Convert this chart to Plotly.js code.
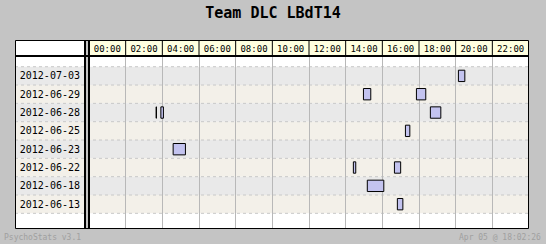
<!DOCTYPE html>
<html><head><meta charset="utf-8">
<script src="https://cdn.plot.ly/plotly-3.0.1.min.js"></script>
<style>html,body{margin:0;padding:0;background:#c4c4c4;}#chart{width:546px;height:244px;}</style>
</head><body><div id="chart"></div>
<script>
// ---- data ----
const rowDates = ["2012-07-03","2012-06-29","2012-06-28","2012-06-25","2012-06-23","2012-06-22","2012-06-18","2012-06-13"];
const hourLabels = ["00:00","02:00","04:00","06:00","08:00","10:00","12:00","14:00","16:00","18:00","20:00","22:00"];
const sessionDates = ["2012-07-03","2012-06-29","2012-06-29","2012-06-28","2012-06-28","2012-06-28","2012-06-25","2012-06-23","2012-06-22","2012-06-22","2012-06-18","2012-06-13"];
const sessionStart = [20.15, 14.97, 17.86, 3.66, 3.92, 18.62, 17.26, 4.59, 14.42, 16.66, 15.18, 16.82];
const sessionEnd   = [20.50, 15.37, 18.37, 3.68, 4.06, 19.19, 17.50, 5.26, 14.55, 17.00, 16.08, 17.12];
const chartTitle = "Team DLC LBdT14";
const footerLeft = "PsychoStats v3.1";
const footerRight = "Apr 05 @ 18:02:26";

// ---- layout helpers (pixel -> paper) ----
const W = 546, H = 244, ML = 89, MR = 17, MT = 57, MB = 16;
const PW = W - ML - MR, PH = H - MT - MB;
const X = p => (p - ML) / PW;
const Y = p => (H - MB - p) / PH;
const mono = "DejaVu Sans Mono, monospace";

const shapes = [];
// label column white background
shapes.push({type:'rect', xref:'paper', yref:'paper', x0:X(15), x1:X(86), y0:Y(228), y1:Y(57), fillcolor:'#ffffff', line:{width:0}, layer:'below'});
// row bands
rowDates.forEach((d, i) => {
  shapes.push({type:'rect', xref:'paper', yref:'y', x0:X(15), x1:X(529), y0:i-0.5, y1:i+0.5,
    fillcolor: i % 2 === 0 ? '#e9e9e9' : '#f3f0e9', line:{width:0}, layer:'below'});
});
// dashed row separators
for (let i = 0; i <= rowDates.length; i++) {
  shapes.push({type:'line', xref:'paper', yref:'y', x0:X(15), x1:X(529), y0:i-0.5, y1:i-0.5,
    line:{color:'#c8c8c8', width:1, dash:'3px,3px'}, layer:'below'});
}
// header cells
hourLabels.forEach((h, i) => {
  shapes.push({type:'rect', xref:'x', yref:'paper', x0:2*i, x1:2*i+2, y0:Y(56), y1:Y(41),
    fillcolor:'#ffffe0', line:{width:0}, layer:'below'});
  if (i > 0) shapes.push({type:'line', xref:'x', yref:'paper', x0:2*i, x1:2*i, y0:Y(56), y1:Y(41),
    line:{color:'#000', width:1}, layer:'above'});
});
shapes.push({type:'rect', xref:'paper', yref:'paper', x0:X(15), x1:X(84), y0:Y(56), y1:Y(41), fillcolor:'#ffffff', line:{width:0}, layer:'below'});
// borders
shapes.push({type:'rect', xref:'paper', yref:'paper', x0:X(86), x1:X(88), y0:Y(228), y1:Y(41), fillcolor:'#c4c4c4', line:{width:0}, layer:'above'});
shapes.push({type:'line', xref:'paper', yref:'paper', x0:X(85), x1:X(85), y0:Y(228.5), y1:Y(40.5), line:{color:'#000', width:2}, layer:'above'});
shapes.push({type:'line', xref:'paper', yref:'paper', x0:X(89), x1:X(89), y0:Y(228.5), y1:Y(40.5), line:{color:'#000', width:2}, layer:'above'});
shapes.push({type:'line', xref:'paper', yref:'paper', x0:X(15), x1:X(529), y0:Y(56), y1:Y(56), line:{color:'#000', width:2}, layer:'above'});
shapes.push({type:'rect', xref:'paper', yref:'paper', x0:X(15.5), x1:X(528.5), y0:Y(228.5), y1:Y(40.5), line:{color:'#000', width:1}, fillcolor:'rgba(0,0,0,0)', layer:'above'});

const trace = {
  type:'bar', orientation:'h',
  y: sessionDates,
  base: sessionStart,
  x: sessionEnd.map((e, i) => e - sessionStart[i]),
  width: 0.62,
  marker:{color:'#c3c3ef', line:{color:'#000', width:1}},
  hoverinfo:'skip'
};

const layout = {
  width: W, height: H,
  margin:{l:ML, r:MR, t:MT, b:MB, pad:0},
  paper_bgcolor:'#c4c4c4', plot_bgcolor:'#ffffff',
  showlegend:false,
  title:{text:chartTitle, x:0.5, xanchor:'center', xref:'container', y:1-13/H, yanchor:'middle', yref:'container',
    font:{family:mono, size:15, color:'#000', weight:'bold'}},
  xaxis:{range:[0,24], side:'top', tickmode:'array', tickvals:hourLabels.map((_, i) => 2*i+1), ticktext:hourLabels,
    showgrid:false, zeroline:false, showline:false, ticks:'', ticklabelstandoff:2,
    tickfont:{family:mono, size:9, color:'#000'},
    minor:{tickmode:'array', tickvals:hourLabels.map((_, i) => 2*i).concat([24]), showgrid:true, gridcolor:'#b8b8b8', gridwidth:1, ticks:''},
    fixedrange:true},
  yaxis:{type:'category', categoryorder:'array', categoryarray:rowDates, range:[8.30, -1.03],
    showgrid:false, zeroline:false, showline:false, ticks:'', ticklabelstandoff:8,
    tickfont:{family:mono, size:10, color:'#000'}, fixedrange:true},
  shapes: shapes,
  annotations:[
    {text:footerLeft, xref:'paper', yref:'paper', x:X(2), y:Y(238), xanchor:'left', yanchor:'middle', showarrow:false,
      font:{family:mono, size:8, color:'#a0a0a0'}},
    {text:footerRight, xref:'paper', yref:'paper', x:X(543), y:Y(238), xanchor:'right', yanchor:'middle', showarrow:false,
      font:{family:mono, size:8, color:'#a0a0a0'}}
  ]
};

Plotly.newPlot('chart', [trace], layout, {displayModeBar:false, staticPlot:true});
</script></body></html>
